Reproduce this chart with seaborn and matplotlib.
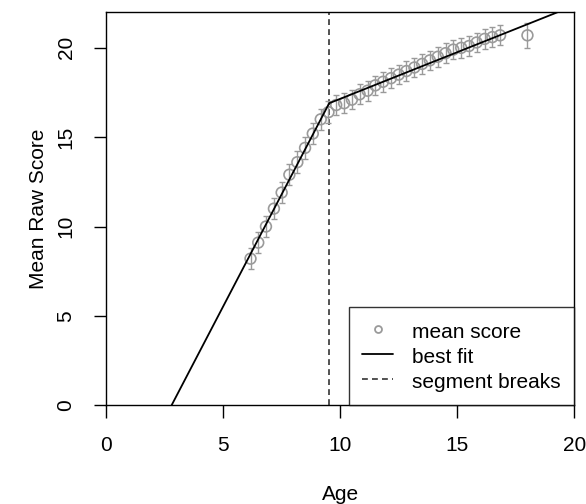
import numpy as np
import pandas as pd
import matplotlib
matplotlib.use('Agg')
import matplotlib.pyplot as plt
import seaborn as sns

# mean raw score by age (years), with error half-widths
age = [6.17, 6.5, 6.83, 7.17, 7.5, 7.83, 8.17, 8.5, 8.83, 9.17, 9.5,
       9.83, 10.17, 10.5, 10.83, 11.17, 11.5, 11.83, 12.17, 12.5, 12.83,
       13.17, 13.5, 13.83, 14.17, 14.5, 14.83, 15.17, 15.5, 15.83, 16.17,
       16.5, 16.83, 18.0]
score = [8.2, 9.1, 10.0, 11.0, 11.9, 12.9, 13.6, 14.4, 15.2, 16.0, 16.4,
         16.8, 16.9, 17.1, 17.4, 17.6, 17.9, 18.1, 18.3, 18.5, 18.7,
         18.9, 19.1, 19.3, 19.5, 19.7, 19.9, 20.0, 20.1, 20.3, 20.5,
         20.6, 20.7, 20.7]
err = [0.6, 0.6, 0.6, 0.6, 0.6, 0.6, 0.6, 0.6, 0.6, 0.6, 0.6,
       0.55, 0.55, 0.55, 0.55, 0.55, 0.55, 0.55, 0.55, 0.55, 0.55,
       0.55, 0.55, 0.55, 0.55, 0.55, 0.55, 0.55, 0.55, 0.55, 0.55,
       0.55, 0.55, 0.7]

# piecewise linear fit
fit_age = [2.8, 9.53, 19.3]
fit_score = [0.0, 16.9, 22.0]
break_age = 9.53

df = pd.DataFrame({'age': age, 'score': score, 'err': err})
fit = pd.DataFrame({'age': fit_age, 'score': fit_score})

sns.set_theme(style='white')
plt.rcParams['font.family'] = ['Liberation Sans', 'DejaVu Sans']
plt.rcParams['text.color'] = 'black'
plt.rcParams['axes.labelcolor'] = 'black'
plt.rcParams['xtick.color'] = 'black'
plt.rcParams['ytick.color'] = 'black'

fig = plt.figure(figsize=(5.86, 5.04), dpi=100)
ax = fig.add_axes([0.181, 0.196, 0.799, 0.780])

grey = '#9a9a9a'
ax.errorbar(df['age'], df['score'], yerr=df['err'], fmt='none',
            ecolor=grey, elinewidth=1.0, capsize=2.5, capthick=1.0, zorder=2)
sns.scatterplot(data=df, x='age', y='score', ax=ax, marker='o', s=60,
                facecolor='none', edgecolor=grey, linewidth=1.2, zorder=3,
                label='mean score')
sns.lineplot(data=fit, x='age', y='score', ax=ax, color='black', lw=1.3,
             label='best fit', zorder=4)
ax.axvline(break_age, color='#333333', ls=(0, (3.5, 2.5)), lw=1.2,
           label='segment breaks', zorder=1)

ax.set_xlim(0, 20)
ax.set_ylim(0, 22)
ax.set_xticks([0, 5, 10, 15, 20])
ax.set_yticks([0, 5, 10, 15, 20])
ax.tick_params(axis='both', direction='out', length=9, width=1, color='black',
               labelcolor='black', labelsize=15, pad=13, left=True, bottom=True)
for lab in ax.get_yticklabels():
    lab.set_rotation(90)
    lab.set_va('center')
ax.set_xlabel('Age', fontsize=15, labelpad=22)
ax.set_ylabel('Mean Raw Score', fontsize=15, labelpad=6)
for sp in ax.spines.values():
    sp.set_color('black')
    sp.set_linewidth(1)

handles, labels = ax.get_legend_handles_labels()
handles[0] = plt.Line2D([], [], marker='o', ls='none', markersize=5,
                        markerfacecolor='none', markeredgecolor=grey,
                        markeredgewidth=1.3)
leg = ax.legend(handles, labels, loc='lower right', fontsize=15,
                frameon=True, fancybox=False, borderaxespad=0,
                handlelength=1.5, handletextpad=0.9, labelspacing=0.15,
                handleheight=1.2, borderpad=0.65)
leg.get_frame().set_edgecolor('black')
leg.get_frame().set_linewidth(1)

fig.savefig('out.png', dpi=100)
